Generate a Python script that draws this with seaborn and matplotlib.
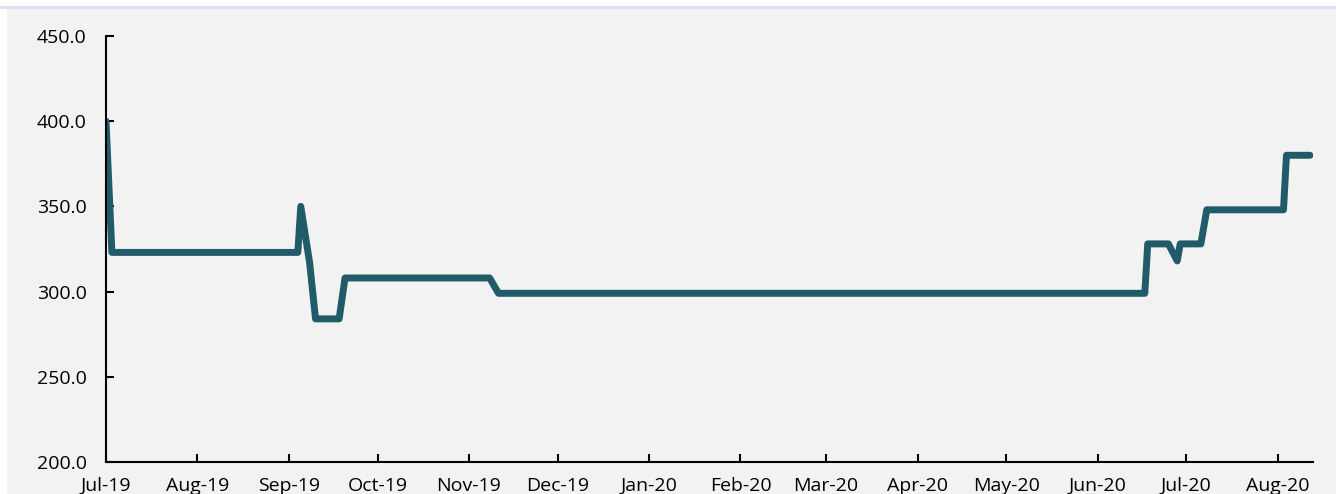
import matplotlib
matplotlib.use("Agg")
import matplotlib.pyplot as plt
import matplotlib.dates as mdates
from matplotlib.patches import Rectangle
import seaborn as sns
import pandas as pd

# observation dates and prices
dates = ["2019-07-01", "2019-07-03", "2019-09-04", "2019-09-05", "2019-09-08",
         "2019-09-10", "2019-09-18", "2019-09-20", "2019-11-08", "2019-11-11",
         "2020-06-17", "2020-06-18", "2020-06-25", "2020-06-28", "2020-06-29",
         "2020-07-06", "2020-07-08", "2020-08-03", "2020-08-04", "2020-08-12"]
prices = [400, 323, 323, 350, 317,
          284, 284, 308, 308, 299,
          299, 328, 328, 318, 328,
          328, 348, 348, 380, 380]

df = pd.DataFrame({"date": pd.to_datetime(dates), "price": prices})

sns.set_style("white")
plt.rcParams["font.family"] = ["Open Sans", "DejaVu Sans"]

fig = plt.figure(figsize=(13.36, 4.94), dpi=100)
fig.patch.set_facecolor("white")
# grey panel and lavender strip on top
fig.add_artist(Rectangle((7 / 1336, 0), 1, 1 - 9 / 494, transform=fig.transFigure,
                         facecolor="#f2f2f2", edgecolor="none", zorder=-2))
fig.add_artist(Rectangle((0, 1 - 9 / 494), 1, 3 / 494, transform=fig.transFigure,
                         facecolor="#e5dcf0", edgecolor="none", zorder=-1))

ax = fig.add_axes([106 / 1336, 1 - 462 / 494, (1313 - 106) / 1336, (462 - 36) / 494])
ax.set_facecolor("none")

sns.lineplot(data=df, x="date", y="price", ax=ax, color="#215a69", linewidth=5,
             solid_joinstyle="round", solid_capstyle="round")

ax.set_ylim(200, 450)
ax.set_yticks([200, 250, 300, 350, 400, 450])
ax.set_yticklabels([f"{v:.1f}" for v in [200, 250, 300, 350, 400, 450]])
ax.set_xlim(pd.Timestamp("2019-07-01"), pd.Timestamp("2020-08-13"))
ax.xaxis.set_major_locator(mdates.MonthLocator())
ax.xaxis.set_major_formatter(mdates.DateFormatter("%b-%y"))

ax.set_xlabel("")
ax.set_ylabel("")
for s in ["top", "right"]:
    ax.spines[s].set_visible(False)
for s in ["left", "bottom"]:
    ax.spines[s].set_color("black")
    ax.spines[s].set_linewidth(1.5)
ax.tick_params(axis="both", direction="in", length=6, width=1.5, colors="black",
               labelsize=14, left=True, bottom=True)
ax.tick_params(axis="y", pad=14)
ax.tick_params(axis="x", pad=11)

fig.savefig("out.png", dpi=100)
